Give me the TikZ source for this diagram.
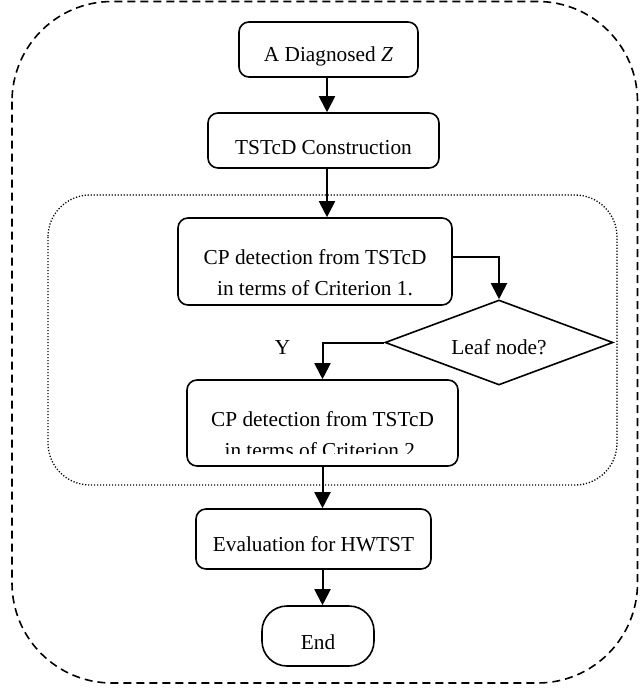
\documentclass[tikz,border=0pt]{standalone}
\usepackage{fontspec}
\setmainfont{Liberation Serif}
\usetikzlibrary{shapes.geometric,arrows.meta}
\begin{document}
\begin{tikzpicture}[x=1pt,y=-1pt,
  txt/.style={font=\fontsize{21.3}{31}\selectfont},
  box/.style={draw,line width=1.6pt,rounded corners=10pt,align=center,inner sep=0pt,txt},
  arr/.style={line width=2pt,-{Triangle[width=16pt,length=16pt]}},
  outerframe/.style={line width=1.6pt,dash pattern=on 8pt off 5pt,rounded corners=100pt},
  innerframe/.style={line width=1.3pt,dash pattern=on 1.2pt off 1.8pt,rounded corners=42pt},
]
\useasboundingbox (0,0) rectangle (640,688);

\draw[outerframe] (12,1.5) rectangle (637.5,683);
\draw[innerframe] (48,195) rectangle (617,485);

\coordinate (xa) at (327,0);

\node[box,minimum width=179pt,minimum height=55pt] (A) at (328.5,49.5)
  {\rule{0pt}{29pt}A Diagnosed \textit{Z}};
\node[box,minimum width=231pt,minimum height=55pt] (T) at (323.5,140.5)
  {\rule{0pt}{28pt}TSTcD Construction};
\node[box,minimum width=274pt,minimum height=87pt] (CP1) at (315,261.5)
  {\rule{0pt}{38pt}CP detection from TSTcD\\in terms of Criterion 1.};
\node[draw,diamond,aspect=2.7,line width=1.6pt,inner sep=0pt,
  minimum width=228pt,minimum height=85pt,txt] (D) at (499,342.5)
  {\rule{0pt}{25pt}Leaf node?};
\begin{scope}
  \clip (0,0) rectangle (640,453) (0,462) rectangle (640,688)
        (0,453) rectangle (195,462) (450,453) rectangle (640,462);
  \node[box,minimum width=271pt,minimum height=86pt] (CP2) at (322.5,423)
    {\rule{0pt}{38pt}CP detection from TSTcD\\in terms of Criterion 2.};
\end{scope}
\node[box,minimum width=235pt,minimum height=60pt] (E) at (313.5,539)
  {\rule{0pt}{26pt}Evaluation for HWTST};
\node[box,rounded corners=25pt,minimum width=112pt,minimum height=60pt] (End) at (318,636)
  {\rule{0pt}{28pt}End};
\node[txt,anchor=base] (Y) at (282.5,354) {Y};

\draw[arr] (A.south -| xa) -- (T.north -| xa);
\draw[arr] (T.south -| xa) -- (CP1.north -| xa);
\draw[arr] ([yshift=4.5pt]CP1.east) -| (D.north);
\draw[arr] (D.west) -| (CP2.north);
\draw[arr] (CP2.south) -- (CP2.south |- E.north);
\draw[arr] (E.south -| CP2.south) -- (End.north -| CP2.south);
\end{tikzpicture}
\end{document}
